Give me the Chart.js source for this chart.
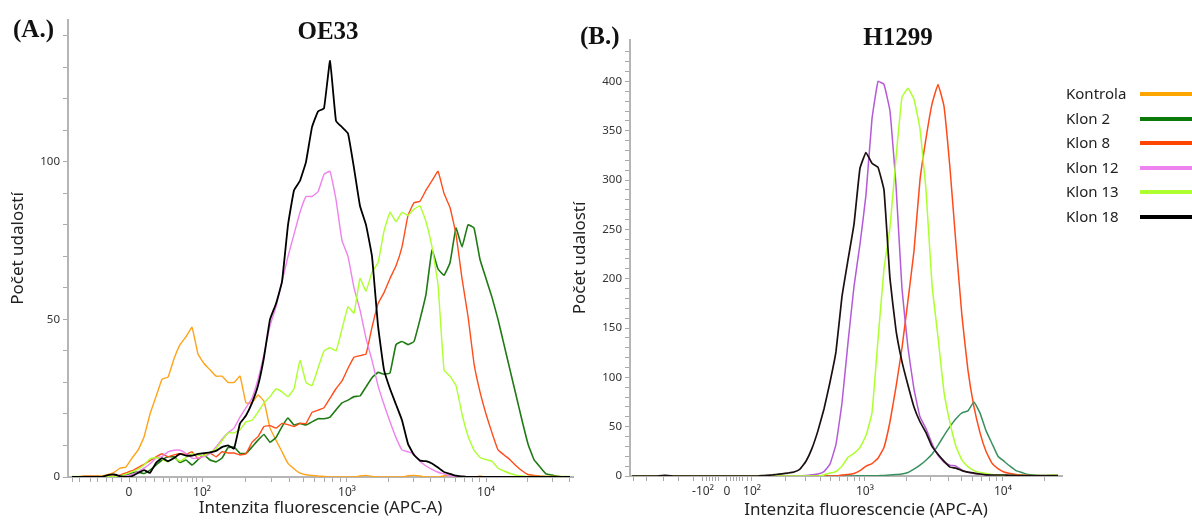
<!DOCTYPE html>
<html>
<head>
<meta charset="utf-8">
<script src="https://cdn.jsdelivr.net/npm/chart.js@4.4.1/dist/chart.umd.min.js"></script>
<style>
  body { margin: 0; width: 1192px; height: 520px; background: #fff; position: relative; overflow: hidden; font-family: 'Noto Sans', sans-serif; }
  .box { position: absolute; }
  .tag { position: absolute; font-family: 'Liberation Serif', serif; font-weight: bold; color: #111; line-height: 1; white-space: nowrap; }
  .xtitle { position: absolute; font-size: 17px; color: #222; line-height: 1; white-space: nowrap; transform: translateX(-50%); }
  .leg { position: absolute; left: 1066px; font-size: 15px; color: #222; line-height: 1; }
  .legline { position: absolute; left: 1140px; width: 52px; height: 4px; }
</style>
</head>
<body>
<div class="box" style="left:0;top:0;width:580px;height:520px"><canvas id="chartA"></canvas></div>
<div class="box" style="left:570px;top:0;width:500px;height:520px"><canvas id="chartB"></canvas></div>

<div class="tag" style="left:13px;top:16px;font-size:25px">(A.)</div>
<div class="tag" style="left:328px;top:18px;font-size:25px;transform:translateX(-50%)">OE33</div>
<div class="tag" style="left:580px;top:23px;font-size:25px">(B.)</div>
<div class="tag" style="left:898px;top:24px;font-size:25px;transform:translateX(-50%)">H1299</div>
<div class="xtitle" style="left:866px;top:500px">Intenzita fluorescencie (APC-A)</div>
<div id="legend"></div>

<script>
// histogram counts per channel (bin)

const seriesNames = ["Kontrola", "Klon 2", "Klon 8", "Klon 12", "Klon 13", "Klon 18"];
const legendColors = ["#ffa500", "#0b7a0b", "#ff4500", "#ee82ee", "#adff2f", "#000000"];

// (A.) OE33 - 84 bins
const kontrolaA = [
  0,0,0,0,0.2,0.3,0.8,1.5,2.8,3.2,6,8.5,
  12.7,20,25.5,31,31.7,37.5,42,44.5,47.5,39,36,34,
  32,32,30,30,32,23.5,23.5,26,24,15.5,11.7,8,
  4.3,2.6,1.2,0.7,0.5,0.3,0.2,0,0,0,0,0,
  0.3,0.5,0.2,0,0,0,0,0,0.4,0.5,0.3,0,
  0,0,0.4,0.5,0,0,0,0,0.3,0,0,0,
  0,0,0,0,0,0,0,0,0,0,0,0
];
const klon2A = [
  0,0,0,0,0,0,0,0,0.3,0.6,1.3,1.6,
  1.1,2.2,3.8,5.4,6.4,6.4,4.6,5.4,3.8,5.5,7,5.4,
  4.8,6,9.3,9.5,7.5,7.5,9.5,11.7,13.5,11,12.5,16,
  18.7,16.5,17,16.5,17.5,18.5,18.5,19,21.3,23.5,24.4,25.5,
  25.7,28.6,31.5,33.2,32.6,33,42,43,42,43,50,58,
  72,66,64,68,79,73,80,79,69,63,57,50,
  42,34,26,18,10.5,5.5,3.2,1,0.6,0.2,0,0
];
const klon8A = [
  0,0,0.3,0.3,0.3,0.2,0.2,0.3,0.6,1.3,2,3,
  4,5.2,6.4,7.4,6.4,7,7.4,7.2,8,5.8,7,7.6,
  6.4,8,7.6,7.6,7,7.4,11,12.8,16,16.3,15.5,17,
  16.6,16,17,17,20.5,21.2,22,25,28,30.5,34.5,38,
  38.5,39,47.5,55,58.5,63,67,73,83,87,87.5,91,
  94,97,90,85.5,77,63,51,36,27,20,14,8.6,
  7,5.5,3.6,2,0.8,0.5,0.3,0.2,0.2,0.2,0,0
];
const klon12A = [
  0,0,0,0,0,0,0,0,0,0.3,0.8,1.6,
  2.8,4.2,6,6.5,8,8.5,8.5,7.5,6,6,6.5,7.5,
  9.5,12,14,15.5,19,22,25,31,39,48,54,62,
  70,77,84,89,89,90.5,96,97,88,75,70,60,
  53,44,37,29,23,17.5,12.5,8.6,8,7.3,5,3.5,
  2.4,1.5,1,0.4,0,0,0,0,0,0,0,0,
  0,0,0,0,0,0,0,0,0,0,0,0
];
const klon13A = [
  0.2,0.2,0.2,0.2,0.2,0.2,0.2,0.2,0.4,0.9,1.6,2.5,
  3.8,5.8,6.2,5.6,4.8,6,5,6.2,7.4,7,6.8,7.8,
  9,11.5,14,14,15,17.5,18,20.6,23.5,25.5,28,27,
  25.5,28,37,30,29,34.5,40,41,40,47,54,52,
  63,59,65,68,78,84,81,84,83,85,86,81,
  73,61,34,32,29,20,13,8.5,6.2,5.5,5,2.8,
  1.9,1.1,0.6,0.3,0.2,0.2,0.2,0.2,0.2,0.2,0.2,0.2
];
const klon18A = [
  0,0,0,0,0,0,0.6,0.8,0.3,0,0.3,1.3,
  2.2,1.3,4.5,6,5,6,7.3,6.8,6.8,7.3,7.6,7.8,
  8.3,9.5,10,9,17,19.5,23.5,29,38,50,55,62,
  80,91,94,100,111,116,117,132,113,111,109,98,
  86,80,70,48,34,28,23,18,10.5,7,5.2,5,
  4.3,3,1.6,1,0.4,0.2,0,0,0,0,0,0,
  0,0,0,0,0,0,0,0,0,0,0,0
];

// (B.) H1299 - 72 bins, no Kontrola
const klon2B = [
  0,0,0,0,0,0,0,0,0,0,0,0,
  0,0,0,0,0,0,0,0,0,0,0,0,
  0,0,0,0,0,0,0,0,0,0,0,0,
  0,0,0.3,0.3,0.3,0.3,0.5,1,1.5,2,3.5,7,
  11,16,22,31,41,50,58,64,66,75,64,46,
  33,20,15,10,5.5,3.5,1.5,0.7,0.3,0,0,0
];
const klon8B = [
  0,0,0,0,0,0,0,0,0,0,0,0,
  0,0,0,0,0,0,0,0,0,0,0,0,
  0,0,0,0,0,0,0,0,0,0,0,1,
  1.5,2.5,5.5,10,12.5,18,29,55,90,130,178,228,
  300,342,377,397,375,312,235,162,107,70,44,25,
  13,7.5,4,2.5,1.5,1,0.5,0,0,0,0,0
];
const klon12B = [
  0,0,0,0,0,0,0,0,0,0,0,0,
  0,0,0,0,0,0,0,0,0,0,0,0,
  0,0,0,0,0,0.5,1.2,2,4.5,12,32,74,
  135,192,235,285,362,400,397,370,295,190,130,88,
  60,48,33,21,14,11,10,6,3.7,2.5,1.8,1.2,
  0.8,0.4,0,0,0,0,0,0,0,0,0,0
];
const klon13B = [
  0,0,0,0,0,0,0,0,0,0,0,0,
  0,0,0,0,0,0,0,0,0,0,0,0,
  0,0,0,0,0,0,0,0,1,3,4.5,10,
  19,23,29,41,64,138,210,252,322,384,393,382,
  352,290,194,141,85,54,30,16,9.5,5.5,3.5,2.5,
  1.5,1,0.7,0.5,0.5,0.5,0.5,0.5,0.5,0.5,1,1
];
const klon18B = [
  0,0,0,0,0,0.5,0.5,0,0,0,0,0,
  0,0,0,0,0,0,0,0,0,0,0.5,0.8,
  1.5,2.2,3,4,7,15,28,46,68,95,126,182,
  219,255,312,328,317,313,290,200,148,116,92,70,
  55,44,30,22,15,9,8,5.5,4,3,2,1.2,
  1,1,1,0.7,0.4,0.3,0.3,0.3,0.3,0.3,0.3,0.3
];

// x tick labels and where they sit on the channel axis
const xLabelsA = ["0", "10\u00b2", "10\u00b3", "10\u2074"];
const xLabelPosA = [9.5, 21.67, 45.83, 69];
const xLabelsB = ["-10\u00b2", "0", "10\u00b2", "10\u00b3", "10\u2074"];
const xLabelPosB = [11.83, 15.83, 20, 38.83, 61.83];

// minor ticks: linear part near zero, then log decades [start, channels per decade]
const linTicksA = [0, 1.33, 3, 4.33, 5.83, 6.83, 8.33, 10.83, 12.17, 13.83, 15.17, 16.33, 17.5, 18.33, 19.17, 20, 20.83];
const decadesA = [[21.67, 24.17], [45.83, 23.17], [69, 23.17]];
const linTicksB = [0.17, 2.5, 5.17, 7.67, 10.2, 12.5, 13, 13.5, 14, 14.5, 16.5, 17, 17.5, 18, 18.5, 19.2];
const decadesB = [[20, 18.83], [38.83, 23], [61.83, 23]];

function buildTicks(labelPos, lin, decades, max) {
  let list = labelPos.concat(lin);
  decades.forEach(d => {
    for (let k = 2; k <= 9; k++) {
      const v = d[0] + d[1] * Math.log10(k);
      if (v <= max) list.push(v);
    }
  });
  list.sort((a, b) => a - b);
  return list.map(v => ({ value: v }));
}

function makeSets(values, colors, widths) {
  return values.map((vals, i) => ({
    label: seriesNames[seriesNames.length - values.length + i],
    data: vals.map((y, ch) => ({ x: ch, y: y })),
    borderColor: colors[i],
    borderWidth: widths[i],
    pointRadius: 0,
    fill: false,
    tension: 0.1,
    order: values.length - 1 - i
  }));
}

function xAxis(min, max, ticks, labels, labelPos, height, title) {
  return {
    type: 'linear', min: min, max: max,
    afterFit: s => { s.height = height; },
    afterBuildTicks: s => { s.ticks = ticks; },
    ticks: {
      autoSkip: false, maxRotation: 0, padding: 3,
      color: '#333', font: { family: 'Noto Sans', size: 12 },
      callback: v => {
        const i = labelPos.findIndex(p => Math.abs(p - v) < 0.01);
        return i >= 0 ? labels[i] : '';
      }
    },
    grid: { drawOnChartArea: false, tickLength: 5, color: '#aaa' },
    border: { color: '#b5b5b5', width: 2 },
    title: title
  };
}

function yAxis(max, width, padX) {
  return {
    min: 0, max: max,
    afterFit: s => { s.width = width; },
    afterBuildTicks: s => { s.ticks = s.ticks.filter(t => t.value % 10 === 0); },
    ticks: {
      stepSize: 10, autoSkip: false, padding: 3,
      color: '#333', font: { family: 'Noto Sans', size: 11.5 },
      callback: v => (v % 50 === 0 ? v : '')
    },
    grid: { drawOnChartArea: false, tickLength: 5, color: '#aaa' },
    border: { color: '#b5b5b5', width: 2 },
    title: {
      display: true, text: 'Počet udalostí', color: '#222',
      font: { family: 'Noto Sans', size: 17 }, padding: { top: padX, bottom: 0 }
    }
  };
}

new Chart('chartA', {
  type: 'line',
  data: {
    datasets: makeSets(
      [kontrolaA, klon2A, klon8A, klon12A, klon13A, klon18A],
      ["#ffa31a", "#1f7a14", "#ff4d1a", "#ee82ee", "#adff2f", "#000000"],
      [1.4, 1.6, 1.4, 1.4, 1.4, 1.8])
  },
  options: {
    responsive: true, maintainAspectRatio: false, animation: false,
    layout: { padding: { top: 20, right: 7, left: 0, bottom: 0 } },
    plugins: { legend: { display: false }, tooltip: { enabled: false } },
    scales: {
      x: xAxis(-0.67, 83.5, buildTicks(xLabelPosA, linTicksA, decadesA, 83.5), xLabelsA, xLabelPosA, 43, {
        display: true, text: 'Intenzita fluorescencie (APC-A)', color: '#222',
        font: { family: 'Noto Sans', size: 17 }, padding: { top: 0, bottom: 2 }
      }),
      y: yAxis(145, 68, 8)
    }
  }
});

new Chart('chartB', {
  type: 'line',
  data: {
    datasets: makeSets(
      [klon2B, klon8B, klon12B, klon13B, klon18B],
      ["#3a8f5f", "#ff4a1a", "#b45ad6", "#adff2f", "#1c0f0f"],
      [1.5, 1.5, 1.5, 1.5, 1.7])
  },
  options: {
    responsive: true, maintainAspectRatio: false, animation: false,
    layout: { padding: { top: 40, right: 8, left: 0, bottom: 0 } },
    plugins: { legend: { display: false }, tooltip: { enabled: false } },
    scales: {
      x: xAxis(-0.33, 71.67, buildTicks(xLabelPosB, linTicksB, decadesB, 71.67), xLabelsB, xLabelPosB, 44, { display: false }),
      y: yAxis(442, 60, 0)
    }
  }
});

// legend on the right: name, then a coloured line
const legend = document.getElementById('legend');
seriesNames.forEach((name, i) => {
  const y = 94 + i * 24.5;
  const t = document.createElement('div');
  t.className = 'leg';
  t.style.top = (y - 8) + 'px';
  t.textContent = name;
  legend.appendChild(t);
  const l = document.createElement('div');
  l.className = 'legline';
  l.style.top = (y - 2) + 'px';
  l.style.background = legendColors[i];
  legend.appendChild(l);
});
</script>
</body>
</html>
